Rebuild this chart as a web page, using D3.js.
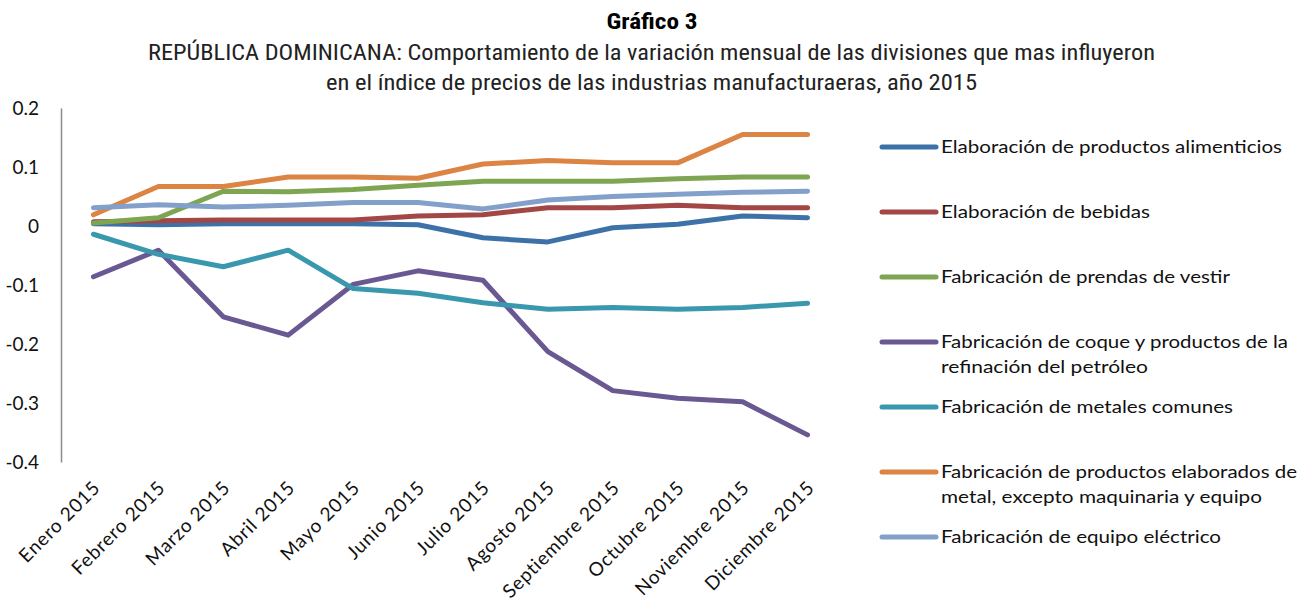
<!DOCTYPE html>
<html><head><meta charset="utf-8">
<script src="https://cdn.jsdelivr.net/npm/d3@7"></script>
<style>
html,body{margin:0;padding:0;background:#fff;}
svg{display:block;}
</style></head>
<body>
<svg id="chart" width="1310" height="603"></svg>
<script>
const months = ["Enero 2015","Febrero 2015","Marzo 2015","Abril 2015","Mayo 2015","Junio 2015","Julio 2015","Agosto 2015","Septiembre 2015","Octubre 2015","Noviembre 2015","Diciembre 2015"];
const yTicks = [0.2, 0.1, 0, -0.1, -0.2, -0.3, -0.4];
const yTickLabels = ["0.2","0.1","0","-0.1","-0.2","-0.3","-0.4"];

const seriesNames = [
  ["Elaboración de productos alimenticios"],
  ["Elaboración de bebidas"],
  ["Fabricación de prendas de vestir"],
  ["Fabricación de coque y productos de la","refinación del petróleo"],
  ["Fabricación de metales comunes"],
  ["Fabricación de productos elaborados de","metal, excepto maquinaria y equipo"],
  ["Fabricación de equipo eléctrico"]
];
const seriesColors = ["#3D72A8","#A34646","#7EA552","#6A5892","#3A98AE","#DC8443","#82A0CA"];

const alimenticios = [0.004, 0.002, 0.004, 0.004, 0.004, 0.002, -0.020, -0.027, -0.003, 0.003, 0.017, 0.014];
const bebidas      = [0.007, 0.009, 0.010, 0.010, 0.010, 0.017, 0.019, 0.031, 0.031, 0.035, 0.031, 0.031];
const prendas      = [0.005, 0.014, 0.059, 0.058, 0.062, 0.069, 0.076, 0.076, 0.076, 0.080, 0.083, 0.083];
const coque        = [-0.086, -0.041, -0.154, -0.185, -0.099, -0.076, -0.092, -0.213, -0.279, -0.292, -0.298, -0.354];
const metales      = [-0.014, -0.048, -0.069, -0.041, -0.106, -0.114, -0.130, -0.141, -0.138, -0.141, -0.138, -0.131];
const elaboradosMetal = [0.019, 0.067, 0.067, 0.083, 0.083, 0.081, 0.105, 0.111, 0.107, 0.107, 0.155, 0.155];
const electrico    = [0.031, 0.036, 0.032, 0.035, 0.040, 0.040, 0.029, 0.044, 0.050, 0.054, 0.057, 0.059];

const seriesValues = [alimenticios, bebidas, prendas, coque, metales, elaboradosMetal, electrico];

const svg = d3.select("#chart");
const plotLeft = 61, plotRight = 840, plotTop = 108, plotBottom = 462;

const x = d3.scaleBand().domain(months).range([plotLeft, plotRight]);
const y = d3.scaleLinear().domain([-0.4, 0.2]).range([plotBottom, plotTop]);

// Titles
const condensed = "'Roboto Condensed','Liberation Sans Narrow','Arial Narrow','DejaVu Sans Condensed',Roboto,sans-serif";
svg.append("text").attr("x",652).attr("y",29).attr("text-anchor","middle")
  .attr("font-family",condensed).attr("font-weight","bold").attr("font-size",22)
  .attr("textLength",91).attr("lengthAdjust","spacingAndGlyphs")
  .text("Gráfico 3");
svg.append("text").attr("x",651.5).attr("y",60).attr("text-anchor","middle")
  .attr("font-family",condensed).attr("font-size",22).attr("fill","#222")
  .attr("textLength",1007).attr("lengthAdjust","spacingAndGlyphs")
  .text("REPÚBLICA DOMINICANA: Comportamiento de la variación mensual de las divisiones que mas influyeron");
svg.append("text").attr("x",651.5).attr("y",90).attr("text-anchor","middle")
  .attr("font-family",condensed).attr("font-size",22).attr("fill","#222")
  .attr("textLength",651).attr("lengthAdjust","spacingAndGlyphs")
  .text("en el índice de precios de las industrias manufacturaeras, año 2015");

// Y axis
const yAxis = d3.axisLeft(y).tickValues(yTicks).tickSize(0).tickPadding(22)
  .tickFormat((d,i)=>yTickLabels[i]);
const gy = svg.append("g").attr("transform",`translate(${plotLeft},0)`).call(yAxis);
gy.select(".domain").attr("stroke","#8c8c8c").attr("stroke-width",1.5);
gy.selectAll("text").attr("font-family","Lato,'Open Sans',sans-serif").attr("font-size",19).attr("fill","#111").attr("dy","0.35em");

// X axis labels
const xAxis = d3.axisBottom(x).tickSize(0).tickPadding(0);
const gx = svg.append("g").attr("transform",`translate(0,${plotBottom})`).call(xAxis);
gx.select(".domain").remove();
gx.selectAll("text")
  .attr("font-family","Lato,'Open Sans',sans-serif").attr("font-size",19).attr("fill","#111")
  .attr("letter-spacing","0.8px")
  .attr("text-anchor","end").attr("dy","0")
  .attr("transform","translate(8,27) rotate(-45)");

// Lines
const line = d3.line().x((d,i)=>x(months[i]) + x.bandwidth()/2).y(d=>y(d));
seriesValues.forEach((vals,k)=>{
  svg.append("path").datum(vals).attr("d",line)
    .attr("fill","none").attr("stroke",seriesColors[k]).attr("stroke-width",5)
    .attr("stroke-linejoin","round").attr("stroke-linecap","round");
});

// Legend
const legendY = [147, 212, 277, 342, 407, 472, 537];
const legendWidths = [[341],[209],[289],[347,207],[292],[356,321],[280]];
const lg = svg.append("g");
seriesNames.forEach((lines,k)=>{
  lg.append("line").attr("x1",882).attr("x2",936).attr("y1",legendY[k]).attr("y2",legendY[k])
    .attr("stroke",seriesColors[k]).attr("stroke-width",5).attr("stroke-linecap","round");
  lines.forEach((t,j)=>{
    lg.append("text").attr("x",941).attr("y",legendY[k]+j*25).attr("dy","0.35em")
      .attr("font-family","Lato,'Open Sans',sans-serif").attr("font-size",18).attr("fill","#111")
      .attr("textLength",legendWidths[k][j]).attr("lengthAdjust","spacingAndGlyphs")
      .text(t);
  });
});
</script>
</body></html>
